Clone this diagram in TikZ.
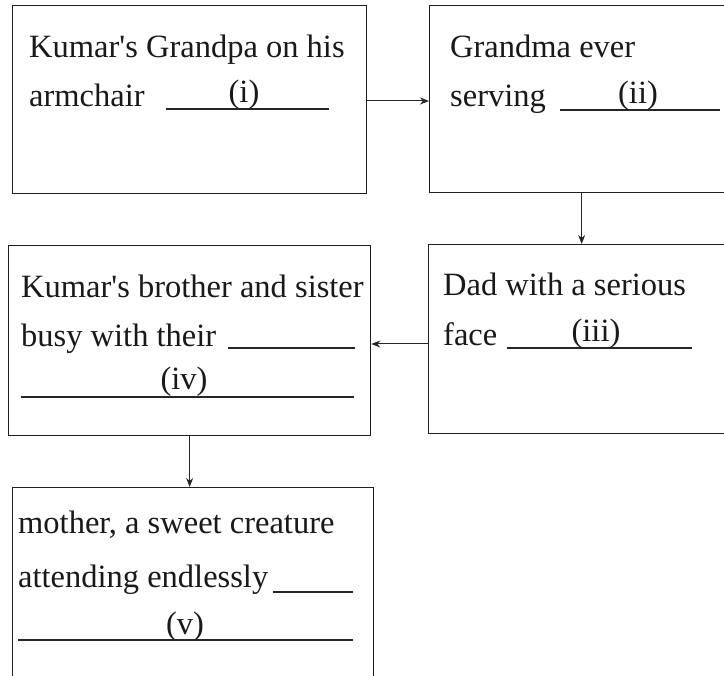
\documentclass[tikz,border=0pt]{standalone}
\usepackage{fontspec}
\setmainfont{Liberation Serif}
\usetikzlibrary{arrows.meta}
\tikzset{
  x=1pt, y=1pt,
  stepbox/.style={draw=black!88, line width=1.3pt, inner sep=0pt, anchor=north west},
  txt/.style={inner sep=0pt, anchor=base west, font=\fontsize{32.5}{40}\selectfont, text=black!90},
  lbl/.style={inner sep=0pt, anchor=base, font=\fontsize{32.5}{40}\selectfont, text=black!90},
  blank/.style={draw=black!85, line width=1.1pt},
  arr/.style={draw=black!85, line width=1pt, -{Stealth[length=9pt,width=7pt]}}
}
\begin{document}
\begin{tikzpicture}
\useasboundingbox (0,0) rectangle (724,-676);
\clip (0,0) rectangle (724,-676);
\fill[white] (0,0) rectangle (724,-676);
% boxes
\node[stepbox, minimum width=354pt, minimum height=188pt] (b1) at (12,-5) {};
\node[stepbox, minimum width=304pt, minimum height=187pt] (b2) at (429,-5) {};
\node[stepbox, minimum width=362pt, minimum height=190pt] (b3) at (8,-245) {};
\node[stepbox, minimum width=306pt, minimum height=189pt] (b4) at (428,-244) {};
\node[stepbox, minimum width=361pt, minimum height=210pt] (b5) at (12,-487) {};
% box 1
\node[txt] (t1a) at (29,-58) {Kumar\textquotesingle s Grandpa on his};
\node[txt] (t1b) at (29,-107) {armchair};
\coordinate (u1a) at (166,-109); \coordinate (u1b) at (329,-109);
\draw[blank] (u1a) -- (u1b);
\node[lbl] (l1) at (244,-103) {(i)};
% box 2
\node[txt] (t2a) at (450,-58) {Grandma ever};
\node[txt] (t2b) at (450,-107) {serving};
\coordinate (u2a) at (560,-110); \coordinate (u2b) at (720,-110);
\draw[blank] (u2a) -- (u2b);
\node[lbl] (l2) at (638,-104) {(ii)};
% box 4
\node[txt] (t4a) at (443,-296) {Dad with a serious};
\node[txt] (t4b) at (443,-346) {face};
\coordinate (u4a) at (507,-348); \coordinate (u4b) at (692,-348);
\draw[blank] (u4a) -- (u4b);
\node[lbl] (l4) at (596,-342) {(iii)};
% box 3
\node[txt] (t3a) at (21,-298) {Kumar\textquotesingle s brother and sister};
\node[txt] (t3b) at (21,-347) {busy with their};
\coordinate (u3a) at (228,-348); \coordinate (u3b) at (355,-348);
\draw[blank] (u3a) -- (u3b);
\node[lbl] (l3) at (184,-390) {(iv)};
\coordinate (v3a) at (21,-397); \coordinate (v3b) at (354,-397);
\draw[blank] (v3a) -- (v3b);
% box 5
\node[txt] (t5a) at (18,-534) {mother, a sweet creature};
\node[txt] (t5b) at (18,-588) {attending endlessly};
\coordinate (u5a) at (273,-592); \coordinate (u5b) at (353,-592);
\draw[blank] (u5a) -- (u5b);
\node[lbl] (l5) at (185,-634) {(v)};
\coordinate (v5a) at (18,-640); \coordinate (v5b) at (353,-640);
\draw[blank] (v5a) -- (v5b);
% connectors
\draw[arr] (b1.east |- 0,-101) -- (b2.west |- 0,-101);
\draw[arr] (b2.south) -- (b2.south |- b4.north);
\draw[arr] (b4.west |- 0,-344) -- (b3.east |- 0,-344);
\draw[arr] (b3.south) -- (b3.south |- b5.north);
\end{tikzpicture}
\end{document}
